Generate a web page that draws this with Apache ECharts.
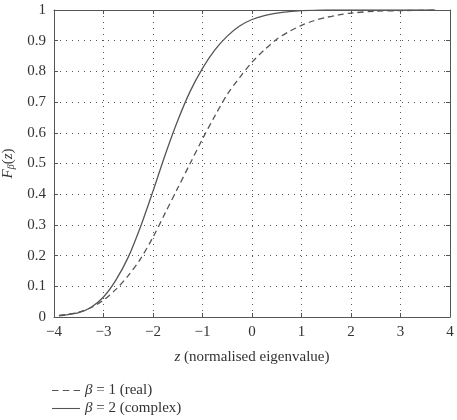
<!DOCTYPE html>
<html>
<head>
<meta charset="UTF-8">
<title>Tracy-Widom</title>
<script src="https://cdn.jsdelivr.net/npm/echarts@6/dist/echarts.min.js"></script>
<style>
  html, body { margin: 0; padding: 0; background: #fff; }
  #chart { width: 457px; height: 420px; }
</style>
</head>
<body>
<div id="chart"></div>
<script>
// z grid of the curves
var zValues = [-3.9, -3.75, -3.5, -3.25, -3, -2.75, -2.5, -2.25, -2, -1.75, -1.5, -1.25, -1, -0.75, -0.5, -0.25,
               0, 0.25, 0.5, 0.75, 1, 1.25, 1.5, 1.75, 2, 2.5, 3, 3.5, 3.7];
// beta = 1 (real)
var realValues = [0.005, 0.008, 0.016, 0.031, 0.055, 0.09, 0.135, 0.19, 0.26, 0.34, 0.42, 0.5, 0.58, 0.655, 0.725, 0.78,
                  0.83, 0.87, 0.905, 0.93, 0.95, 0.965, 0.976, 0.984, 0.99, 0.996, 0.998, 0.9995, 1];
// beta = 2 (complex)
var complexValues = [0.004, 0.007, 0.014, 0.032, 0.065, 0.12, 0.195, 0.295, 0.41, 0.53, 0.64, 0.735, 0.81, 0.87, 0.915, 0.948,
                     0.969, 0.982, 0.99, 0.995, 0.998, 0.999, 1, 1, 1, 1, 1, 1, 1];

var xTicks = [-4, 4, 1];
var yTicks = [0, 1, 0.1];

function pairs(ys) {
    return zValues.map(function (z, i) { return [z, ys[i]]; });
}

var font = '"Liberation Serif", "DejaVu Serif", serif';
var grey = '#555';
var txt = '#333';
var italic = { fontFamily: font, fontStyle: 'italic', fontSize: 15, color: txt };

var myChart = echarts.init(document.getElementById('chart'));

var option = {
    animation: false,
    textStyle: { fontFamily: font, color: txt },
    grid: { left: 54, right: 7, top: 10, bottom: 103, outerBoundsMode: 'none', containLabel: false },
    legend: {
        orient: 'vertical',
        left: 52,
        top: 383,
        padding: 0,
        itemWidth: 28,
        itemHeight: 8,
        itemGap: 3,
        textStyle: {
            fontFamily: font, fontSize: 15, lineHeight: 15, color: txt,
            rich: { i: { fontFamily: font, fontStyle: 'italic', fontSize: 15, lineHeight: 15, color: txt } }
        },
        formatter: function (name) {
            return name === 'real' ? '{i|β} = 1 (real)' : '{i|β} = 2 (complex)';
        },
        data: [
            { name: 'real', icon: 'path://M0,0h6v1h-6zM10,0h6v1h-6zM20,0h6v1h-6z', itemStyle: { color: grey } },
            { name: 'complex', icon: 'path://M0,0h26v1h-26z', itemStyle: { color: grey } }
        ]
    },
    xAxis: [{
        type: 'value',
        min: xTicks[0], max: xTicks[1], interval: xTicks[2],
        name: '{i|z} (normalised eigenvalue)',
        nameLocation: 'middle',
        nameGap: 33,
        nameTextStyle: { fontFamily: font, fontSize: 15, color: txt, rich: { i: italic } },
        axisLine: { show: true, onZero: false, lineStyle: { color: grey, width: 1 } },
        axisTick: { inside: true, length: 4, lineStyle: { color: grey } },
        axisLabel: {
            fontFamily: font, fontSize: 15, color: txt, margin: 8,
            formatter: function (v) { return v < 0 ? '\u2212' + (-v) : String(v); }
        },
        splitLine: { show: true, lineStyle: { color: grey, type: [1, 5], width: 1 } }
    }, {
        type: 'value', position: 'top',
        min: xTicks[0], max: xTicks[1], interval: xTicks[2],
        axisLine: { show: true, onZero: false, lineStyle: { color: grey, width: 1 } },
        axisTick: { inside: true, length: 4, lineStyle: { color: grey } },
        axisLabel: { show: false },
        splitLine: { show: false }
    }],
    yAxis: [{
        type: 'value',
        min: yTicks[0], max: yTicks[1], interval: yTicks[2],
        name: '{i|F}{sub|β}{n|(}{i|z}{n|)}',
        nameLocation: 'middle',
        nameRotate: 90,
        nameGap: 38,
        nameTextStyle: {
            fontFamily: font, fontSize: 15, color: txt,
            rich: {
                i: italic,
                n: { fontFamily: font, fontSize: 15, color: txt },
                sub: { fontFamily: font, fontStyle: 'italic', fontSize: 10, color: txt, padding: [6, 0, 0, 0] }
            }
        },
        axisLine: { show: true, onZero: false, lineStyle: { color: grey, width: 1 } },
        axisTick: { show: true, inside: true, length: 4, lineStyle: { color: grey } },
        axisLabel: { fontFamily: font, fontSize: 15, color: txt, margin: 8 },
        splitLine: { show: true, lineStyle: { color: grey, type: [1, 5], width: 1 } }
    }, {
        type: 'value', position: 'right',
        min: yTicks[0], max: yTicks[1], interval: yTicks[2],
        axisLine: { show: true, onZero: false, lineStyle: { color: grey, width: 1 } },
        axisTick: { show: true, inside: true, length: 4, lineStyle: { color: grey } },
        axisLabel: { show: false },
        splitLine: { show: false }
    }],
    series: [{
        name: 'real',
        type: 'line',
        showSymbol: false,
        symbol: 'none',
        smooth: 0.3,
        data: pairs(realValues),
        lineStyle: { color: grey, width: 1.3, type: [6, 4] },
        itemStyle: { color: grey }
    }, {
        name: 'complex',
        type: 'line',
        showSymbol: false,
        symbol: 'none',
        smooth: 0.3,
        data: pairs(complexValues),
        lineStyle: { color: grey, width: 1.3 },
        itemStyle: { color: grey }
    }]
};

myChart.setOption(option);
</script>
</body>
</html>
